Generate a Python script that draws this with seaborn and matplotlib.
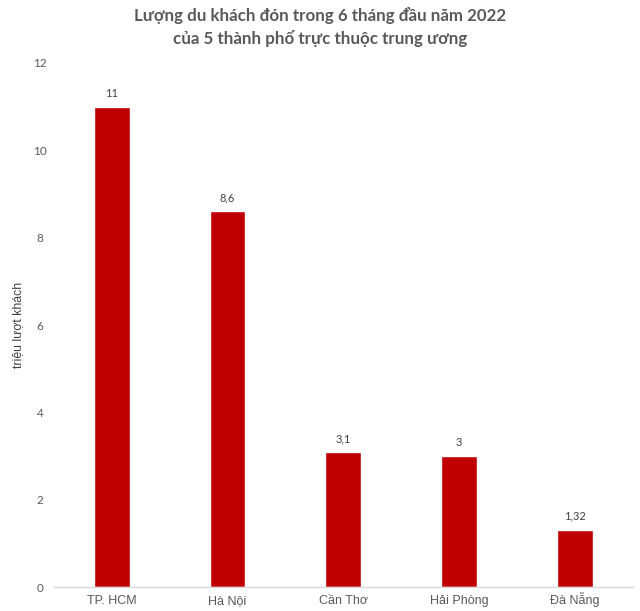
import matplotlib
matplotlib.use("Agg")
import matplotlib.pyplot as plt
import seaborn as sns
import pandas as pd

cities = ["TP. HCM", "Hà Nội", "Cần Thơ", "Hải Phòng", "Đà Nẵng"]
visitors = [11, 8.6, 3.1, 3, 1.32]
value_labels = ["11", "8,6", "3,1", "3", "1,32"]
yticks = [0, 2, 4, 6, 8, 10, 12]

sns.set_theme(style="white")
plt.rcParams['font.family'] = ['Lato', 'DejaVu Sans']

df = pd.DataFrame({"city": cities, "visitors": visitors})

fig = plt.figure(figsize=(6.4, 6.11), dpi=100)
ax = fig.add_axes([0.084, 0.039, 0.905, 0.858])
sns.barplot(data=df, x="city", y="visitors", color="#C00000", saturation=1,
            width=0.31, ax=ax)

for i, (v, lab) in enumerate(zip(visitors, value_labels)):
    ax.annotate(lab, (i, v), xytext=(0, 5.5), textcoords="offset points",
                ha="center", va="bottom", fontsize=8, color="#404040")

ax.set_ylim(0, 12)
ax.set_yticks(yticks)
ax.set_yticklabels([str(t) for t in yticks], fontsize=8.5, color="#595959")
ax.set_xlim(-0.5, 4.5)
ax.set_xlabel("")
ax.set_ylabel("triệu lượt khách", fontsize=8.8, color="#404040",
              fontfamily=['Liberation Sans', 'DejaVu Sans'])
ax.yaxis.set_label_coords(-0.052, 0.5)
ax.tick_params(axis='both', length=0)
ax.tick_params(axis='x', pad=12)
ax.tick_params(axis='y', pad=10)
for lab in ax.get_xticklabels():
    lab.set_fontfamily(['Liberation Sans', 'DejaVu Sans'])
    lab.set_fontsize(9)
    lab.set_color("#595959")
    lab.set_verticalalignment('baseline')
for lab in ax.get_yticklabels():
    lab.set_horizontalalignment('center')
for s in ["top", "right", "left"]:
    ax.spines[s].set_visible(False)
ax.spines["bottom"].set_color("#D9D9D9")
ax.spines["bottom"].set_linewidth(1)

fig.text(0.5, 0.988, "Lượng du khách đón trong 6 tháng đầu năm 2022\ncủa 5 thành phố trực thuộc trung ương",
         ha="center", va="top", fontsize=12.2, fontweight="bold", color="#595959",
         linespacing=1.4)

fig.savefig("out.png", dpi=100)
